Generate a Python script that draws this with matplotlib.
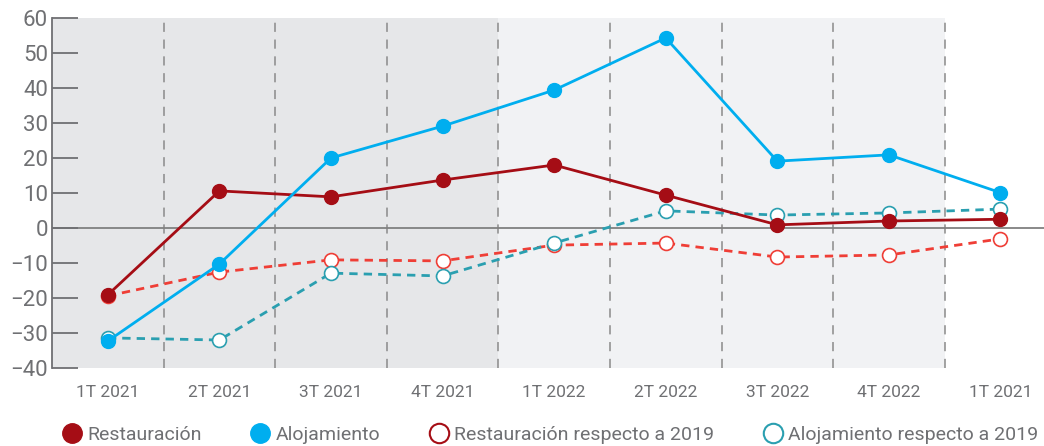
import matplotlib
matplotlib.use("Agg")
import matplotlib.pyplot as plt
from matplotlib.lines import Line2D

plt.rcParams['font.family'] = ['Liberation Sans Narrow', 'Roboto', 'DejaVu Sans']

quarters = ['1T 2021', '2T 2021', '3T 2021', '4T 2021', '1T 2022',
            '2T 2022', '3T 2022', '4T 2022', '1T 2021']
restauracion = [-19.1, 10.6, 8.9, 13.7, 18.0, 9.4, 0.9, 2.0, 2.5]
alojamiento = [-32.3, -10.3, 20.0, 29.1, 39.4, 54.3, 19.1, 20.9, 10.1]
restauracion_2019 = [-19.4, -12.6, -9.1, -9.4, -4.9, -4.3, -8.3, -7.7, -3.1]
alojamiento_2019 = [-31.4, -32.0, -12.9, -13.7, -4.3, 4.9, 3.7, 4.3, 5.4]

grey_txt = "#6f7073"
dark_red = "#a50d15"
blue = "#00aeef"
red = "#ef3e36"
teal = "#2a9fb0"

fig = plt.figure(figsize=(10.44, 4.46), dpi=100)
ax = fig.add_axes([52 / 1044, 78 / 446, 1 - 52 / 1044, 350 / 446])

x = list(range(len(quarters)))

# background bands
ax.axvspan(-0.5, 3.5, color="#e6e7e9", lw=0, zorder=0)
ax.axvspan(3.5, 7.5, color="#f1f2f4", lw=0, zorder=0)
for i in range(8):
    ax.axvline(i + 0.5, color="#8a8a8a", lw=1.1, ls=(0, (6, 5)), zorder=1)
ax.axhline(0, color="#808080", lw=1.3, zorder=1)

ax.plot(x, restauracion_2019, color=red, lw=2, ls=(0, (3, 2.2)), marker='o', ms=10,
        mfc='white', mec=red, mew=1.2, zorder=3)
ax.plot(x, alojamiento_2019, color=teal, lw=2, ls=(0, (3, 2.2)), marker='o', ms=10,
        mfc='white', mec=teal, mew=1.2, zorder=3)
ax.plot(x, restauracion, color=dark_red, lw=2, marker='o', ms=10, zorder=4)
ax.plot(x, alojamiento, color=blue, lw=2, marker='o', ms=10, zorder=4)

ax.set_xlim(-0.5, 8.39)
ax.set_ylim(-40, 60)
ax.set_yticks(range(-40, 61, 10))
ax.set_xticks(x)
ax.set_xticklabels(quarters)
ax.tick_params(axis='y', direction='in', length=19, width=1.3, color=grey_txt,
               labelsize=16, labelcolor=grey_txt, pad=3)
ax.tick_params(axis='x', length=0, labelsize=12.5, labelcolor=grey_txt, pad=12)
for s in ['top', 'right', 'bottom']:
    ax.spines[s].set_visible(False)
ax.spines['left'].set_color(grey_txt)
ax.spines['left'].set_linewidth(1.3)
ax.set_facecolor('white')

handles = [
    Line2D([], [], ls='none', marker='o', ms=14, color=dark_red),
    Line2D([], [], ls='none', marker='o', ms=14, color=blue),
    Line2D([], [], ls='none', marker='o', ms=14, mfc='white', mec=dark_red, mew=1.5),
    Line2D([], [], ls='none', marker='o', ms=14, mfc='white', mec=teal, mew=1.5),
]
labels = ['Restauración', 'Alojamiento', 'Restauración respecto a 2019',
          'Alojamiento respecto a 2019']
fig.legend(handles, labels, loc='center left', bbox_to_anchor=(62 / 1044, 11 / 446),
           ncol=4, frameon=False, fontsize=14, labelcolor=grey_txt,
           handlelength=1, handletextpad=0.3, columnspacing=2.5, borderpad=0,
           borderaxespad=0)

fig.savefig("out.png", dpi=100)
